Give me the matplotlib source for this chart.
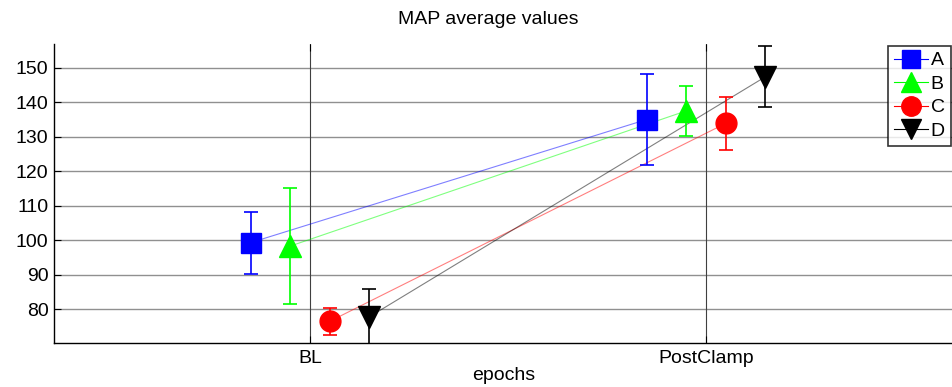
import numpy as np
import matplotlib
matplotlib.use('Agg')
from matplotlib import pyplot as plt

plt.rcParams['font.family'] = ['Liberation Sans', 'DejaVu Sans']

# epochs and group statistics (mean, error)
epochs = ['BL', 'PostClamp']
groups = ['A', 'B', 'C', 'D']
means = {
    'A': [99.3, 135.0],
    'B': [98.3, 137.5],
    'C': [76.5, 133.9],
    'D': [77.8, 147.4],
}
errors = {
    'A': [9.0, 13.1],
    'B': [16.9, 7.3],
    'C': [3.9, 7.7],
    'D': [8.0, 8.9],
}
offsets = [-0.15, -0.05, 0.05, 0.15]
colors = ['#0000ff', '#00ff00', '#ff0000', '#000000']
markers = ['s', '^', 'o', 'v']
sizes = [14, 16, 15, 16]

fig = plt.figure(figsize=(9.53, 3.87), dpi=100)
ax = fig.add_axes([54 / 953, 44 / 387, 1 - 54 / 953, 299 / 387])

x = np.arange(1, len(epochs) + 1)

for i, g in enumerate(groups):
    xs = x + offsets[i]
    # thin connecting line between epochs
    ax.plot(xs, means[g], '-', color=colors[i], lw=0.8, alpha=0.5, zorder=2)
    ax.errorbar(xs, means[g], yerr=errors[g], fmt='none', ecolor=colors[i],
                elinewidth=1.2, capsize=5, capthick=1.2, zorder=3)
    ax.plot(xs, means[g], linestyle='none', marker=markers[i], ms=sizes[i],
            color=colors[i], mec=colors[i], zorder=4)

ax.set_xlim(1 - 256 / 396, 2 + 247 / 396)
ax.set_ylim(70.2, 156.9)
ax.set_xticks(x)
ax.set_xticklabels(epochs, fontsize=14)
ax.set_yticks(np.arange(80, 151, 10))
ax.tick_params(axis='y', labelsize=14, direction='in', length=5, pad=4)
ax.tick_params(axis='x', direction='in', length=5, top=True, pad=5)

for y in np.arange(80, 151, 10):
    ax.axhline(y, color='#909090', lw=1.0, zorder=1)
for xv in x:
    ax.axvline(xv, color='#404040', lw=0.8, zorder=1)

ax.spines['top'].set_visible(False)
ax.spines['right'].set_visible(False)
ax.spines['left'].set_linewidth(1.0)
ax.spines['bottom'].set_linewidth(1.0)

fig.text(488 / 953, 1 - 20 / 387, 'MAP average values', fontsize=14,
         ha='center', va='center')
ax.set_xlabel('epochs', fontsize=14, labelpad=0)

handles = []
for i, g in enumerate(groups):
    h, = ax.plot([], [], '-', color=colors[i], lw=0.8, alpha=1.0,
                 marker=markers[i], ms=sizes[i] - 1, mec=colors[i])
    handles.append(h)
leg = fig.legend(handles, groups, loc='upper left',
                 bbox_to_anchor=(888 / 953, 1 - 46 / 387), fontsize=14,
                 frameon=True, fancybox=False, edgecolor='black',
                 handlelength=1.75, handletextpad=0.15, borderpad=0.3,
                 labelspacing=0.3, borderaxespad=0)
leg.get_frame().set_linewidth(1.2)

fig.savefig('out.png', dpi=100)
